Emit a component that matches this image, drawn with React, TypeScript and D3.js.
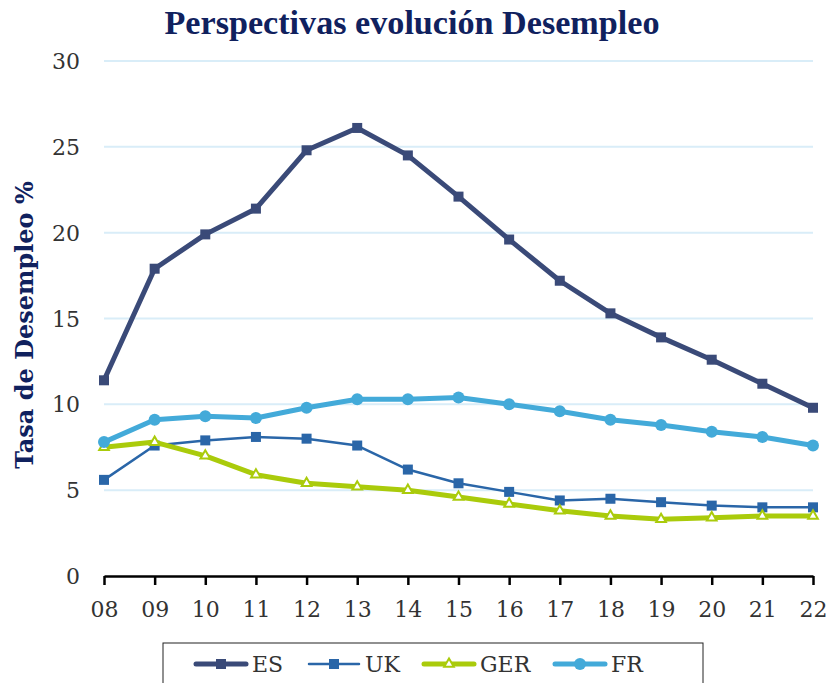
import { useEffect, useRef } from 'react'
import * as d3 from 'd3'

const years = ['08', '09', '10', '11', '12', '13', '14', '15', '16', '17', '18', '19', '20', '21', '22']
const esValues = [11.4, 17.9, 19.9, 21.4, 24.8, 26.1, 24.5, 22.1, 19.6, 17.2, 15.3, 13.9, 12.6, 11.2, 9.8]
const ukValues = [5.6, 7.6, 7.9, 8.1, 8.0, 7.6, 6.2, 5.4, 4.9, 4.4, 4.5, 4.3, 4.1, 4.0, 4.0]
const gerValues = [7.5, 7.8, 7.0, 5.9, 5.4, 5.2, 5.0, 4.6, 4.2, 3.8, 3.5, 3.3, 3.4, 3.5, 3.5]
const frValues = [7.8, 9.1, 9.3, 9.2, 9.8, 10.3, 10.3, 10.4, 10.0, 9.6, 9.1, 8.8, 8.4, 8.1, 7.6]
const yTicks = [0, 5, 10, 15, 20, 25, 30]

type Series = { name: string; values: number[]; color: string; width: number; marker: 'square' | 'triangle' | 'circle'; size: number }

const series: Series[] = [
  { name: 'ES', values: esValues, color: '#3a4a78', width: 5, marker: 'square', size: 10 },
  { name: 'UK', values: ukValues, color: '#2a66a8', width: 2.5, marker: 'square', size: 10 },
  { name: 'GER', values: gerValues, color: '#aacb0b', width: 5, marker: 'triangle', size: 8 },
  { name: 'FR', values: frValues, color: '#43aad9', width: 5, marker: 'circle', size: 6 },
]

const App = () => {
  const svgRef = useRef<SVGSVGElement | null>(null)

  useEffect(() => {
    if (!svgRef.current) return
    const svg = d3.select(svgRef.current)
    svg.selectAll('*').remove()

    const width = 830
    const height = 683
    const margin = { top: 61, right: 17, bottom: 107, left: 104 }
    const font = "'DejaVu Serif', Georgia, serif"

    svg.attr('width', width).attr('height', height)

    const x = d3
      .scalePoint<string>()
      .domain(years)
      .range([margin.left, width - margin.right])

    const y = d3
      .scaleLinear()
      .domain([0, 30])
      .range([height - margin.bottom, margin.top])

    // gridlines
    svg
      .append('g')
      .selectAll('line')
      .data(yTicks.filter((d) => d > 0))
      .join('line')
      .attr('x1', margin.left)
      .attr('x2', width - margin.right)
      .attr('y1', (d) => y(d))
      .attr('y2', (d) => y(d))
      .attr('stroke', '#d9edf8')
      .attr('stroke-width', 2)

    // y labels
    svg
      .append('g')
      .selectAll('text')
      .data(yTicks)
      .join('text')
      .attr('x', 80)
      .attr('y', (d) => y(d) + 8)
      .attr('text-anchor', 'end')
      .attr('font-family', font)
      .attr('font-size', 22)
      .attr('fill', '#333')
      .text((d) => d)

    // x axis
    const xAxis = d3.axisBottom(x).tickSize(9).tickSizeOuter(0)
    const gx = svg
      .append('g')
      .attr('transform', `translate(0,${y(0)})`)
      .call(xAxis)
    gx.select('.domain').attr('stroke', '#000').attr('stroke-width', 2.5)
    gx.selectAll('.tick line').attr('stroke', '#000').attr('stroke-width', 2.5)
    gx.selectAll('.tick text')
      .attr('font-family', font)
      .attr('font-size', 22)
      .attr('fill', '#333')
      .attr('dy', '1.3em')

    // lines + markers
    const line = d3
      .line<number>()
      .x((_, i) => x(years[i])!)
      .y((d) => y(d))

    series.forEach((s) => {
      const g = svg.append('g')
      g.append('path')
        .datum(s.values)
        .attr('fill', 'none')
        .attr('stroke', s.color)
        .attr('stroke-width', s.width)
        .attr('stroke-linejoin', 'round')
        .attr('d', line)
      drawMarkers(g, s, s.values.map((v, i) => [x(years[i])!, y(v)]))
    })

    // title
    svg
      .append('text')
      .attr('x', 412)
      .attr('y', 34)
      .attr('text-anchor', 'middle')
      .attr('font-family', "'Liberation Serif', serif")
      .attr('font-weight', 'bold')
      .attr('font-size', 33)
      .attr('textLength', 495)
      .attr('lengthAdjust', 'spacingAndGlyphs')
      .attr('fill', '#10215e')
      .text('Perspectivas evolución Desempleo')

    // y axis title
    svg
      .append('text')
      .attr('transform', `translate(33,325) rotate(-90)`)
      .attr('text-anchor', 'middle')
      .attr('font-family', font)
      .attr('font-weight', 'bold')
      .attr('font-size', 24)
      .attr('fill', '#10215e')
      .text('Tasa de Desempleo %')

    // legend
    const legend = svg.append('g')
    legend
      .append('rect')
      .attr('x', 163)
      .attr('y', 643)
      .attr('width', 540)
      .attr('height', 60)
      .attr('fill', 'white')
      .attr('stroke', '#222')
      .attr('stroke-width', 1)
    const legendX = [196, 309, 424, 555]
    series.forEach((s, i) => {
      const lx = legendX[i]
      const ly = 664
      const lg = legend.append('g')
      lg.append('line')
        .attr('x1', lx)
        .attr('x2', lx + 50)
        .attr('y1', ly)
        .attr('y2', ly)
        .attr('stroke', s.color)
        .attr('stroke-width', s.width)
        .attr('stroke-linecap', 'round')
      drawMarkers(lg, s, [[lx + 25, ly]])
      lg.append('text')
        .attr('x', lx + 56)
        .attr('y', ly + 8)
        .attr('font-family', font)
        .attr('font-size', 22)
        .attr('fill', '#333')
        .text(s.name)
    })
  }, [])

  return <svg ref={svgRef} style={{ position: 'absolute', left: 0, top: 0 }}></svg>
}

function drawMarkers(
  g: d3.Selection<SVGGElement, unknown, null, undefined>,
  s: Series,
  pts: [number, number][]
) {
  if (s.marker === 'square') {
    g.selectAll('rect.m')
      .data(pts)
      .join('rect')
      .attr('class', 'm')
      .attr('x', (d) => d[0] - s.size / 2)
      .attr('y', (d) => d[1] - s.size / 2)
      .attr('width', s.size)
      .attr('height', s.size)
      .attr('fill', s.color)
  } else if (s.marker === 'circle') {
    g.selectAll('circle.m')
      .data(pts)
      .join('circle')
      .attr('class', 'm')
      .attr('cx', (d) => d[0])
      .attr('cy', (d) => d[1])
      .attr('r', s.size)
      .attr('fill', s.color)
  } else {
    const tri = d3.symbol().type(d3.symbolTriangle).size(40)
    g.selectAll('path.m')
      .data(pts)
      .join('path')
      .attr('class', 'm')
      .attr('transform', (d) => `translate(${d[0]},${d[1]})`)
      .attr('d', tri)
      .attr('fill', 'white')
      .attr('stroke', s.color)
      .attr('stroke-width', 2)
  }
}

export default App
